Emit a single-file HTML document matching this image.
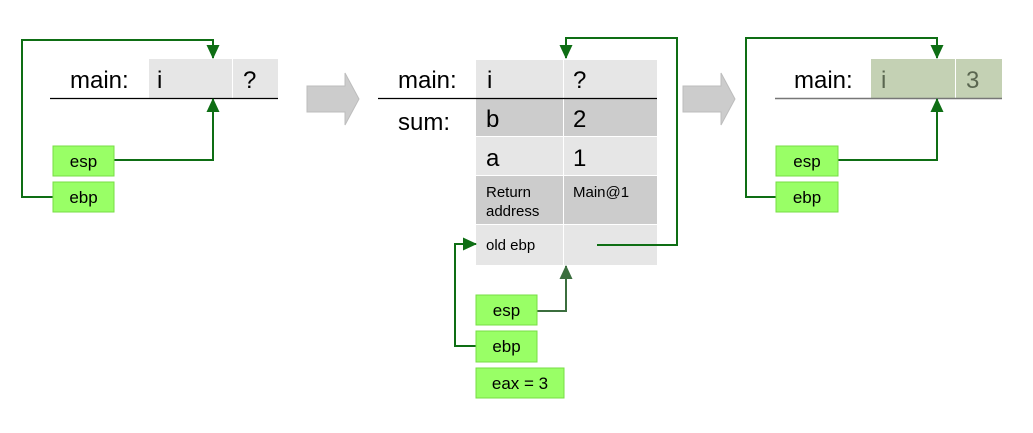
<!DOCTYPE html>
<html><head><meta charset="utf-8"><style>
html,body{margin:0;padding:0;background:#fff;}
svg{display:block;font-family:"Liberation Sans",sans-serif;}
</style></head><body>
<svg width="1033" height="433" viewBox="0 0 1033 433" xmlns="http://www.w3.org/2000/svg">
<defs>
<marker id="ah" markerWidth="14" markerHeight="14" refX="13" refY="7" orient="auto" markerUnits="userSpaceOnUse" viewBox="0 0 14 14"><path d="M0,0.5 L14,7 L0,13.5 z" fill="#0e6e14"/></marker>
<marker id="ah2" markerWidth="14" markerHeight="14" refX="13" refY="7" orient="auto" markerUnits="userSpaceOnUse" viewBox="0 0 14 14"><path d="M0,0.5 L14,7 L0,13.5 z" fill="#3b6e3e"/></marker>
</defs>
<!-- gray arrows -->
<path d="M307,86 H345 V73 L359,99 L345,125 V112 H307 Z" fill="#cccccc" stroke="#bdbdbd"/>
<path d="M683,86 H721 V73 L735,99 L721,125 V112 H683 Z" fill="#cccccc" stroke="#bdbdbd"/>
<!-- left table -->
<rect x="149" y="59" width="83" height="39" fill="#e6e6e6"/>
<rect x="233" y="59" width="45" height="39" fill="#e6e6e6"/>
<line x1="50" y1="98.5" x2="278" y2="98.5" stroke="#000" stroke-width="1.3"/>
<g font-size="24" fill="#000">
<text x="70" y="88">main:</text><text x="157" y="88">i</text><text x="243" y="88">?</text>
</g>
<!-- middle table -->
<rect x="476" y="60" width="87" height="38" fill="#e6e6e6"/>
<rect x="564" y="60" width="93" height="38" fill="#e6e6e6"/>
<rect x="476" y="98" width="87" height="38" fill="#cccccc"/>
<rect x="564" y="98" width="93" height="38" fill="#cccccc"/>
<rect x="476" y="137" width="87" height="38" fill="#e6e6e6"/>
<rect x="564" y="137" width="93" height="38" fill="#e6e6e6"/>
<rect x="476" y="176" width="87" height="48" fill="#cccccc"/>
<rect x="564" y="176" width="93" height="48" fill="#cccccc"/>
<rect x="476" y="225" width="87" height="40" fill="#e6e6e6"/>
<rect x="564" y="225" width="93" height="40" fill="#e6e6e6"/>
<line x1="378" y1="98.5" x2="657" y2="98.5" stroke="#000" stroke-width="1.3"/>
<g font-size="24" fill="#000">
<text x="398" y="88">main:</text><text x="487" y="88">i</text><text x="573" y="88">?</text>
<text x="398" y="130">sum:</text><text x="486" y="127">b</text><text x="573" y="127">2</text>
<text x="486" y="166">a</text><text x="573" y="166">1</text>
</g>
<g font-size="15" fill="#000">
<text x="486" y="197">Return</text><text x="486" y="216">address</text>
<text x="573" y="197">Main@1</text>
<text x="486" y="250">old ebp</text>
</g>
<!-- right table -->
<rect x="871" y="59" width="84" height="39" fill="#c4d1b4"/>
<rect x="956" y="59" width="46" height="39" fill="#c4d1b4"/>
<line x1="775" y1="98.5" x2="1002" y2="98.5" stroke="#777" stroke-width="1.5"/>
<g font-size="24">
<text x="794" y="88" fill="#000">main:</text><text x="881" y="88" fill="#5a6650">i</text><text x="966" y="88" fill="#5a6650">3</text>
</g>
<!-- connectors -->
<g fill="none" stroke="#0e6e14" stroke-width="2">
<path d="M53,197 H22 V40 H213 V58" marker-end="url(#ah)"/>
<path d="M114,160 H213 V99" marker-end="url(#ah)"/>
<path d="M597,245 H677 V38 H566 V58" marker-end="url(#ah)"/>
<path d="M476,346 H455 V244 H476" marker-end="url(#ah)"/>
<path d="M537,311 H566 V266" stroke="#3b6e3e" marker-end="url(#ah2)"/>
<path d="M776,197 H746 V38 H937 V58" marker-end="url(#ah)"/>
<path d="M838,160 H937 V99" marker-end="url(#ah)"/>
</g>
<!-- green boxes -->
<g fill="#99ff66" stroke="#77dd44" stroke-width="1">
<rect x="53" y="146" width="61" height="30"/><rect x="53" y="182" width="61" height="30"/>
<rect x="476" y="295" width="61" height="30"/><rect x="476" y="331" width="61" height="31"/>
<rect x="476" y="368" width="88" height="30"/>
<rect x="776" y="146" width="62" height="30"/><rect x="776" y="182" width="62" height="30"/>
</g>
<g font-size="17" fill="#000" text-anchor="middle">
<text x="83.5" y="167">esp</text><text x="83.5" y="203">ebp</text>
<text x="506.5" y="316">esp</text><text x="506.5" y="352">ebp</text>
<text x="520" y="389">eax = 3</text>
<text x="807" y="167">esp</text><text x="807" y="203">ebp</text>
</g>
</svg>
</body></html>
